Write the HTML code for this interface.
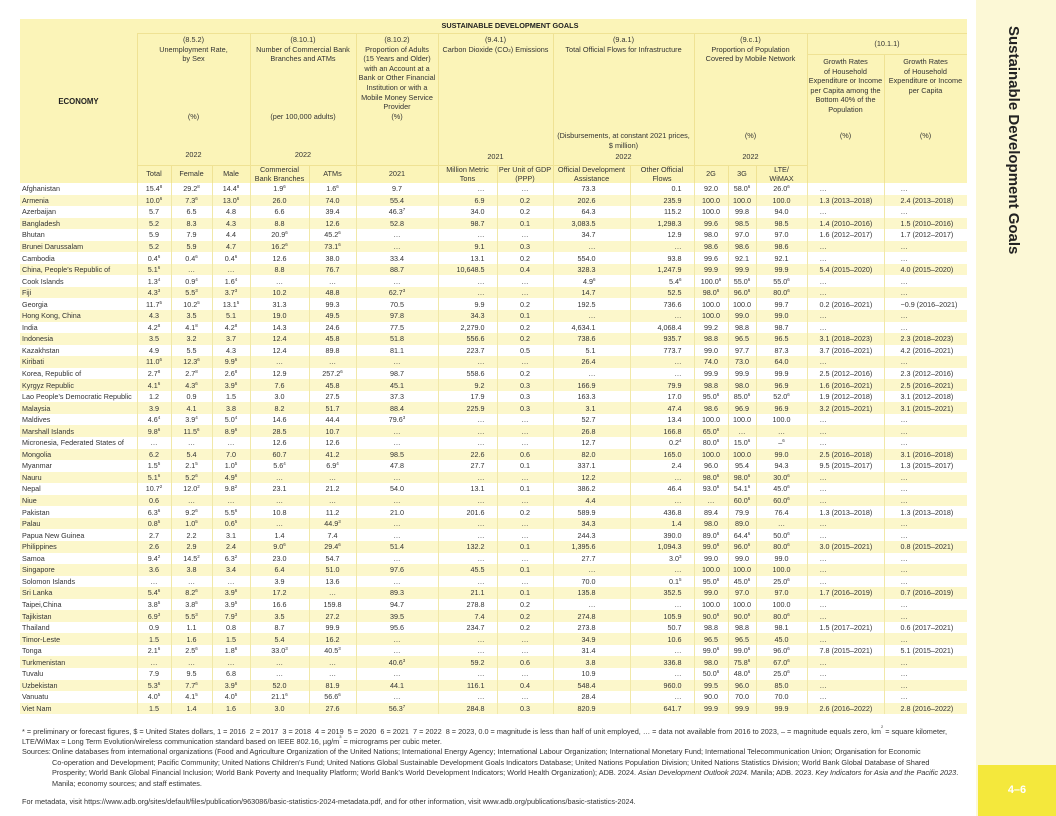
<!DOCTYPE html>
<html><head><meta charset="utf-8"><style>
*{margin:0;padding:0;box-sizing:border-box}
body{width:1056px;height:816px;background:#fff;position:relative;overflow:hidden;font-family:"Liberation Sans",sans-serif;color:#222}
.side{position:absolute;left:976px;top:0;width:80px;height:816px;background:#fcf8d6}
.pg{position:absolute;left:978px;top:765px;width:78px;height:51px;background:#f4e83c;color:#fff;font-weight:bold;font-size:11px;text-align:center;line-height:51px}
.hd{position:absolute;left:20px;top:19px;width:947px;height:164px;background:#fbf4b8}
.a{position:absolute;font-size:7.3px;line-height:9.6px;text-align:center;white-space:nowrap;color:#333}
.vl{position:absolute;width:1px;background:#efe294}
.hl{position:absolute;height:1px;background:#efe294}
table{position:absolute;left:20px;top:183px;border-collapse:collapse;table-layout:fixed;width:947px;font-size:7.2px;color:#333}
td{height:11.55px;padding:0;line-height:11px;white-space:nowrap;border-left:1px solid #f1e8a8;text-align:center;overflow:hidden}
td:first-child{border-left:none;text-align:left;padding-left:2px}
tr:nth-child(even){background:#fcf7cb}
td:nth-child(8),td:nth-child(11){text-align:right;padding-right:12px}
td:nth-child(10){text-align:right;padding-right:34px}
td:nth-child(15){text-align:left;padding-left:12px}
td:nth-child(16){text-align:left;padding-left:16px}
i{font-style:normal;font-size:4.5px;vertical-align:top;line-height:7px}
.f{position:absolute;left:22px;font-size:7.3px;line-height:10px;height:10px;white-space:nowrap;color:#333}
.f sup{font-size:4px;line-height:0;vertical-align:top}
</style></head><body>
<div class="side"></div>
<div style="position:absolute;left:1022px;top:26px;transform-origin:0 0;transform:rotate(90deg);font-weight:bold;font-size:15px;white-space:nowrap;color:#222">Sustainable Development Goals</div>
<div class="pg">4–6</div>

<div class="hd"></div>
<div class="hl" style="left:137px;top:33px;width:830px"></div>
<div class="hl" style="left:807px;top:54px;width:160px"></div>
<div class="hl" style="left:137px;top:165px;width:670px"></div>
<div class="vl" style="left:137px;top:33px;height:150px"></div>
<div class="vl" style="left:250px;top:33px;height:150px"></div>
<div class="vl" style="left:356px;top:33px;height:150px"></div>
<div class="vl" style="left:438px;top:33px;height:150px"></div>
<div class="vl" style="left:553px;top:33px;height:150px"></div>
<div class="vl" style="left:694px;top:33px;height:150px"></div>
<div class="vl" style="left:807px;top:33px;height:150px"></div>
<div class="vl" style="left:884px;top:54px;height:129px"></div>
<div class="vl" style="left:171px;top:165px;height:18px"></div>
<div class="vl" style="left:212px;top:165px;height:18px"></div>
<div class="vl" style="left:309px;top:165px;height:18px"></div>
<div class="vl" style="left:497px;top:165px;height:18px"></div>
<div class="vl" style="left:630px;top:165px;height:18px"></div>
<div class="vl" style="left:728px;top:165px;height:18px"></div>
<div class="vl" style="left:756px;top:165px;height:18px"></div>

<div class="a" style="left:20px;width:117px;top:97px;font-weight:bold;font-size:7.8px;color:#222">ECONOMY</div>
<div class="a" style="left:400px;width:220px;top:21px;font-weight:bold;font-size:7.3px;color:#222">SUSTAINABLE DEVELOPMENT GOALS</div>

<div class="a" style="left:137px;width:113px;top:35px">(8.5.2)<br>Unemployment Rate,<br>by Sex</div>
<div class="a" style="left:137px;width:113px;top:112px">(%)</div>
<div class="a" style="left:137px;width:113px;top:150px">2022</div>

<div class="a" style="left:250px;width:106px;top:35px">(8.10.1)<br>Number of Commercial Bank<br>Branches and ATMs</div>
<div class="a" style="left:250px;width:106px;top:112px">(per 100,000 adults)</div>
<div class="a" style="left:250px;width:106px;top:150px">2022</div>

<div class="a" style="left:356px;width:82px;top:35px">(8.10.2)<br>Proportion of Adults<br>(15 Years and Older)<br>with an Account at a<br>Bank or Other Financial<br>Institution or with a<br>Mobile Money Service<br>Provider<br>(%)</div>

<div class="a" style="left:438px;width:115px;top:35px">(9.4.1)<br>Carbon Dioxide (CO<span style="font-size:4.5px">2</span>) Emissions</div>
<div class="a" style="left:438px;width:115px;top:152px">2021</div>

<div class="a" style="left:553px;width:141px;top:35px">(9.a.1)<br>Total Official Flows for Infrastructure</div>
<div class="a" style="left:553px;width:141px;top:131px">(Disbursements, at constant 2021 prices,<br>$ million)</div>
<div class="a" style="left:553px;width:141px;top:152px">2022</div>

<div class="a" style="left:694px;width:113px;top:35px">(9.c.1)<br>Proportion of Population<br>Covered by Mobile Network</div>
<div class="a" style="left:694px;width:113px;top:131px">(%)</div>
<div class="a" style="left:694px;width:113px;top:152px">2022</div>

<div class="a" style="left:807px;width:160px;top:39px">(10.1.1)</div>
<div class="a" style="left:807px;width:77px;top:57px">Growth Rates<br>of Household<br>Expenditure or Income<br>per Capita among the<br>Bottom 40% of the<br>Population</div>
<div class="a" style="left:884px;width:83px;top:57px">Growth Rates<br>of Household<br>Expenditure or Income<br>per Capita</div>
<div class="a" style="left:807px;width:77px;top:131px">(%)</div>
<div class="a" style="left:884px;width:83px;top:131px">(%)</div>

<div class="a" style="left:137px;width:34px;top:169px">Total</div>
<div class="a" style="left:171px;width:41px;top:169px">Female</div>
<div class="a" style="left:212px;width:38px;top:169px">Male</div>
<div class="a" style="left:250px;width:59px;top:165px;line-height:8.5px;padding-top:1px">Commercial<br>Bank Branches</div>
<div class="a" style="left:309px;width:47px;top:169px">ATMs</div>
<div class="a" style="left:356px;width:82px;top:169px">2021</div>
<div class="a" style="left:438px;width:59px;top:165px;line-height:8.5px;padding-top:1px">Million Metric<br>Tons</div>
<div class="a" style="left:497px;width:56px;top:165px;line-height:8.5px;padding-top:1px">Per Unit of GDP<br>(PPP)</div>
<div class="a" style="left:553px;width:77px;top:165px;line-height:8.5px;padding-top:1px">Official Development<br>Assistance</div>
<div class="a" style="left:630px;width:64px;top:165px;line-height:8.5px;padding-top:1px">Other Official<br>Flows</div>
<div class="a" style="left:694px;width:34px;top:169px">2G</div>
<div class="a" style="left:728px;width:28px;top:169px">3G</div>
<div class="a" style="left:756px;width:51px;top:165px;line-height:8.5px;padding-top:1px">LTE/<br>WiMAX</div>

<table>
<colgroup><col style="width:117px"><col style="width:34px"><col style="width:41px"><col style="width:38px"><col style="width:59px"><col style="width:47px"><col style="width:82px"><col style="width:59px"><col style="width:56px"><col style="width:77px"><col style="width:64px"><col style="width:34px"><col style="width:28px"><col style="width:51px"><col style="width:77px"><col style="width:83px"></colgroup>
<tr><td>Afghanistan<td>15.4<i>8</i><td>29.2<i>8</i><td>14.4<i>8</i><td>1.9<i>6</i><td>1.6<i>6</i><td>9.7<td>…<td>…<td>73.3<td>0.1<td>92.0<td>58.0<i>6</i><td>26.0<i>6</i><td>…<td>…
<tr><td>Armenia<td>10.0<i>6</i><td>7.3<i>6</i><td>13.0<i>6</i><td>26.0<td>74.0<td>55.4<td>6.9<td>0.2<td>202.6<td>235.9<td>100.0<td>100.0<td>100.0<td>1.3 (2013–2018)<td>2.4 (2013–2018)
<tr><td>Azerbaijan<td>5.7<td>6.5<td>4.8<td>6.6<td>39.4<td>46.3<i>7</i><td>34.0<td>0.2<td>64.3<td>115.2<td>100.0<td>99.8<td>94.0<td>…<td>…
<tr><td>Bangladesh<td>5.2<td>8.3<td>4.3<td>8.8<td>12.6<td>52.8<td>98.7<td>0.1<td>3,083.5<td>1,298.3<td>99.6<td>98.5<td>98.5<td>1.4 (2010–2016)<td>1.5 (2010–2016)
<tr><td>Bhutan<td>5.9<td>7.9<td>4.4<td>20.9<i>6</i><td>45.2<i>6</i><td>…<td>…<td>…<td>34.7<td>12.9<td>98.0<td>97.0<td>97.0<td>1.6 (2012–2017)<td>1.7 (2012–2017)
<tr><td>Brunei Darussalam<td>5.2<td>5.9<td>4.7<td>16.2<i>6</i><td>73.1<i>6</i><td>…<td>9.1<td>0.3<td>…<td>…<td>98.6<td>98.6<td>98.6<td>…<td>…
<tr><td>Cambodia<td>0.4<i>6</i><td>0.4<i>6</i><td>0.4<i>6</i><td>12.6<td>38.0<td>33.4<td>13.1<td>0.2<td>554.0<td>93.8<td>99.6<td>92.1<td>92.1<td>…<td>…
<tr><td>China, People’s Republic of<td>5.1<i>6</i><td>…<td>…<td>8.8<td>76.7<td>88.7<td>10,648.5<td>0.4<td>328.3<td>1,247.9<td>99.9<td>99.9<td>99.9<td>5.4 (2015–2020)<td>4.0 (2015–2020)
<tr><td>Cook Islands<td>1.3<i>4</i><td>0.9<i>4</i><td>1.6<i>4</i><td>…<td>…<td>…<td>…<td>…<td>4.9<i>6</i><td>5.4<i>6</i><td>100.0<i>6</i><td>55.0<i>6</i><td>55.0<i>6</i><td>…<td>…
<tr><td>Fiji<td>4.3<i>3</i><td>5.5<i>3</i><td>3.7<i>3</i><td>10.2<td>48.8<td>62.7<i>3</i><td>…<td>…<td>14.7<td>52.5<td>98.0<i>6</i><td>96.0<i>6</i><td>80.0<i>6</i><td>…<td>…
<tr><td>Georgia<td>11.7<i>5</i><td>10.2<i>5</i><td>13.1<i>5</i><td>31.3<td>99.3<td>70.5<td>9.9<td>0.2<td>192.5<td>736.6<td>100.0<td>100.0<td>99.7<td>0.2 (2016–2021)<td>−0.9 (2016–2021)
<tr><td>Hong Kong, China<td>4.3<td>3.5<td>5.1<td>19.0<td>49.5<td>97.8<td>34.3<td>0.1<td>…<td>…<td>100.0<td>99.0<td>99.0<td>…<td>…
<tr><td>India<td>4.2<i>8</i><td>4.1<i>8</i><td>4.2<i>8</i><td>14.3<td>24.6<td>77.5<td>2,279.0<td>0.2<td>4,634.1<td>4,068.4<td>99.2<td>98.8<td>98.7<td>…<td>…
<tr><td>Indonesia<td>3.5<td>3.2<td>3.7<td>12.4<td>45.8<td>51.8<td>556.6<td>0.2<td>738.6<td>935.7<td>98.8<td>96.5<td>96.5<td>3.1 (2018–2023)<td>2.3 (2018–2023)
<tr><td>Kazakhstan<td>4.9<td>5.5<td>4.3<td>12.4<td>89.8<td>81.1<td>223.7<td>0.5<td>5.1<td>773.7<td>99.0<td>97.7<td>87.3<td>3.7 (2016–2021)<td>4.2 (2016–2021)
<tr><td>Kiribati<td>11.0<i>6</i><td>12.3<i>6</i><td>9.9<i>6</i><td>…<td>…<td>…<td>…<td>…<td>26.4<td>…<td>74.0<td>73.0<td>64.0<td>…<td>…
<tr><td>Korea, Republic of<td>2.7<i>8</i><td>2.7<i>8</i><td>2.6<i>8</i><td>12.9<td>257.2<i>6</i><td>98.7<td>558.6<td>0.2<td>…<td>…<td>99.9<td>99.9<td>99.9<td>2.5 (2012–2016)<td>2.3 (2012–2016)
<tr><td>Kyrgyz Republic<td>4.1<i>6</i><td>4.3<i>6</i><td>3.9<i>6</i><td>7.6<td>45.8<td>45.1<td>9.2<td>0.3<td>166.9<td>79.9<td>98.8<td>98.0<td>96.9<td>1.6 (2016–2021)<td>2.5 (2016–2021)
<tr><td>Lao People’s Democratic Republic<td>1.2<td>0.9<td>1.5<td>3.0<td>27.5<td>37.3<td>17.9<td>0.3<td>163.3<td>17.0<td>95.0<i>6</i><td>85.0<i>6</i><td>52.0<i>6</i><td>1.9 (2012–2018)<td>3.1 (2012–2018)
<tr><td>Malaysia<td>3.9<td>4.1<td>3.8<td>8.2<td>51.7<td>88.4<td>225.9<td>0.3<td>3.1<td>47.4<td>98.6<td>96.9<td>96.9<td>3.2 (2015–2021)<td>3.1 (2015–2021)
<tr><td>Maldives<td>4.6<i>4</i><td>3.9<i>4</i><td>5.0<i>4</i><td>14.6<td>44.4<td>79.6<i>3</i><td>…<td>…<td>52.7<td>13.4<td>100.0<td>100.0<td>100.0<td>…<td>…
<tr><td>Marshall Islands<td>9.8<i>6</i><td>11.5<i>6</i><td>8.9<i>6</i><td>28.5<td>10.7<td>…<td>…<td>…<td>26.8<td>166.8<td>65.0<i>6</i><td>…<td>…<td>…<td>…
<tr><td>Micronesia, Federated States of<td>…<td>…<td>…<td>12.6<td>12.6<td>…<td>…<td>…<td>12.7<td>0.2<i>4</i><td>80.0<i>6</i><td>15.0<i>6</i><td>–<i>6</i><td>…<td>…
<tr><td>Mongolia<td>6.2<td>5.4<td>7.0<td>60.7<td>41.2<td>98.5<td>22.6<td>0.6<td>82.0<td>165.0<td>100.0<td>100.0<td>99.0<td>2.5 (2016–2018)<td>3.1 (2016–2018)
<tr><td>Myanmar<td>1.5<i>5</i><td>2.1<i>5</i><td>1.0<i>5</i><td>5.6<i>4</i><td>6.9<i>4</i><td>47.8<td>27.7<td>0.1<td>337.1<td>2.4<td>96.0<td>95.4<td>94.3<td>9.5 (2015–2017)<td>1.3 (2015–2017)
<tr><td>Nauru<td>5.1<i>6</i><td>5.2<i>6</i><td>4.9<i>6</i><td>…<td>…<td>…<td>…<td>…<td>12.2<td>…<td>98.0<i>6</i><td>98.0<i>6</i><td>30.0<i>6</i><td>…<td>…
<tr><td>Nepal<td>10.7<i>2</i><td>12.0<i>2</i><td>9.8<i>2</i><td>23.1<td>21.2<td>54.0<td>13.1<td>0.1<td>386.2<td>46.4<td>93.0<i>6</i><td>54.1<i>6</i><td>45.0<i>6</i><td>…<td>…
<tr><td>Niue<td>0.6<td>…<td>…<td>…<td>…<td>…<td>…<td>…<td>4.4<td>…<td>…<td>60.0<i>6</i><td>60.0<i>6</i><td>…<td>…
<tr><td>Pakistan<td>6.3<i>6</i><td>9.2<i>6</i><td>5.5<i>6</i><td>10.8<td>11.2<td>21.0<td>201.6<td>0.2<td>589.9<td>436.8<td>89.4<td>79.9<td>76.4<td>1.3 (2013–2018)<td>1.3 (2013–2018)
<tr><td>Palau<td>0.8<i>5</i><td>1.0<i>5</i><td>0.6<i>5</i><td>…<td>44.9<i>3</i><td>…<td>…<td>…<td>34.3<td>1.4<td>98.0<td>89.0<td>…<td>…<td>…
<tr><td>Papua New Guinea<td>2.7<td>2.2<td>3.1<td>1.4<td>7.4<td>…<td>…<td>…<td>244.3<td>390.0<td>89.0<i>6</i><td>64.4<i>6</i><td>50.0<i>6</i><td>…<td>…
<tr><td>Philippines<td>2.6<td>2.9<td>2.4<td>9.0<i>6</i><td>29.4<i>6</i><td>51.4<td>132.2<td>0.1<td>1,395.6<td>1,094.3<td>99.0<i>6</i><td>96.0<i>6</i><td>80.0<i>6</i><td>3.0 (2015–2021)<td>0.8 (2015–2021)
<tr><td>Samoa<td>9.4<i>2</i><td>14.5<i>2</i><td>6.3<i>2</i><td>23.0<td>54.7<td>…<td>…<td>…<td>27.7<td>3.0<i>3</i><td>99.0<td>99.0<td>99.0<td>…<td>…
<tr><td>Singapore<td>3.6<td>3.8<td>3.4<td>6.4<td>51.0<td>97.6<td>45.5<td>0.1<td>…<td>…<td>100.0<td>100.0<td>100.0<td>…<td>…
<tr><td>Solomon Islands<td>…<td>…<td>…<td>3.9<td>13.6<td>…<td>…<td>…<td>70.0<td>0.1<i>5</i><td>95.0<i>6</i><td>45.0<i>6</i><td>25.0<i>6</i><td>…<td>…
<tr><td>Sri Lanka<td>5.4<i>6</i><td>8.2<i>6</i><td>3.9<i>6</i><td>17.2<td>…<td>89.3<td>21.1<td>0.1<td>135.8<td>352.5<td>99.0<td>97.0<td>97.0<td>1.7 (2016–2019)<td>0.7 (2016–2019)
<tr><td>Taipei,China<td>3.8<i>5</i><td>3.8<i>5</i><td>3.9<i>5</i><td>16.6<td>159.8<td>94.7<td>278.8<td>0.2<td>…<td>…<td>100.0<td>100.0<td>100.0<td>…<td>…
<tr><td>Tajikistan<td>6.9<i>3</i><td>5.5<i>3</i><td>7.9<i>3</i><td>3.5<td>27.2<td>39.5<td>7.4<td>0.2<td>274.8<td>105.9<td>90.0<i>6</i><td>90.0<i>6</i><td>80.0<i>6</i><td>…<td>…
<tr><td>Thailand<td>0.9<td>1.1<td>0.8<td>8.7<td>99.9<td>95.6<td>234.7<td>0.2<td>273.8<td>50.7<td>98.8<td>98.8<td>98.1<td>1.5 (2017–2021)<td>0.6 (2017–2021)
<tr><td>Timor-Leste<td>1.5<td>1.6<td>1.5<td>5.4<td>16.2<td>…<td>…<td>…<td>34.9<td>10.6<td>96.5<td>96.5<td>45.0<td>…<td>…
<tr><td>Tonga<td>2.1<i>6</i><td>2.5<i>6</i><td>1.8<i>6</i><td>33.0<i>3</i><td>40.5<i>3</i><td>…<td>…<td>…<td>31.4<td>…<td>99.0<i>6</i><td>99.0<i>6</i><td>96.0<i>6</i><td>7.8 (2015–2021)<td>5.1 (2015–2021)
<tr><td>Turkmenistan<td>…<td>…<td>…<td>…<td>…<td>40.6<i>3</i><td>59.2<td>0.6<td>3.8<td>336.8<td>98.0<td>75.8<i>6</i><td>67.0<i>6</i><td>…<td>…
<tr><td>Tuvalu<td>7.9<td>9.5<td>6.8<td>…<td>…<td>…<td>…<td>…<td>10.9<td>…<td>50.0<i>6</i><td>48.0<i>6</i><td>25.0<i>6</i><td>…<td>…
<tr><td>Uzbekistan<td>5.3<i>6</i><td>7.7<i>6</i><td>3.9<i>6</i><td>52.0<td>81.9<td>44.1<td>116.1<td>0.4<td>548.4<td>960.0<td>99.5<td>96.0<td>85.0<td>…<td>…
<tr><td>Vanuatu<td>4.0<i>5</i><td>4.1<i>5</i><td>4.0<i>5</i><td>21.1<i>6</i><td>56.6<i>6</i><td>…<td>…<td>…<td>28.4<td>…<td>90.0<td>70.0<td>70.0<td>…<td>…
<tr><td>Viet Nam<td>1.5<td>1.4<td>1.6<td>3.0<td>27.6<td>56.3<i>7</i><td>284.8<td>0.3<td>820.9<td>641.7<td>99.9<td>99.9<td>99.9<td>2.6 (2016–2022)<td>2.8 (2016–2022)
</table>

<div class="f" style="top:727px">* = preliminary or forecast figures, $ = United States dollars, 1 = 2016 &nbsp;2 = 2017 &nbsp;3 = 2018 &nbsp;4 = 2019 &nbsp;5 = 2020 &nbsp;6 = 2021 &nbsp;7 = 2022 &nbsp;8 = 2023, 0.0 = magnitude is less than half of unit employed, … = data not available from 2016 to 2023, – = magnitude equals zero, km<sup>2</sup> = square kilometer,</div>
<div class="f" style="top:737px">LTE/WiMax = Long Term Evolution/wireless communication standard based on IEEE 802.16, µg/m<sup>3</sup> = micrograms per cubic meter.</div>
<div class="f" style="top:747px">Sources:</div>
<div class="f" style="top:747px;left:52px">Online databases from international organizations (Food and Agriculture Organization of the United Nations; International Energy Agency; International Labour Organization; International Monetary Fund; International Telecommunication Union; Organisation for Economic</div>
<div class="f" style="top:758px;left:52px">Co-operation and Development; Pacific Community; United Nations Children’s Fund; United Nations Global Sustainable Development Goals Indicators Database; United Nations Population Division; United Nations Statistics Division; World Bank Global Database of Shared</div>
<div class="f" style="top:768px;left:52px">Prosperity; World Bank Global Financial Inclusion; World Bank Poverty and Inequality Platform; World Bank’s World Development Indicators; World Health Organization); ADB. 2024. <em>Asian Development Outlook 2024</em>. Manila; ADB. 2023. <em>Key Indicators for Asia and the Pacific 2023</em>.</div>
<div class="f" style="top:779px;left:52px">Manila; economy sources; and staff estimates.</div>
<div class="f" style="top:797px">For metadata, visit https://www.adb.org/sites/default/files/publication/963086/basic-statistics-2024-metadata.pdf, and for other information, visit www.adb.org/publications/basic-statistics-2024.</div>
</body></html>
